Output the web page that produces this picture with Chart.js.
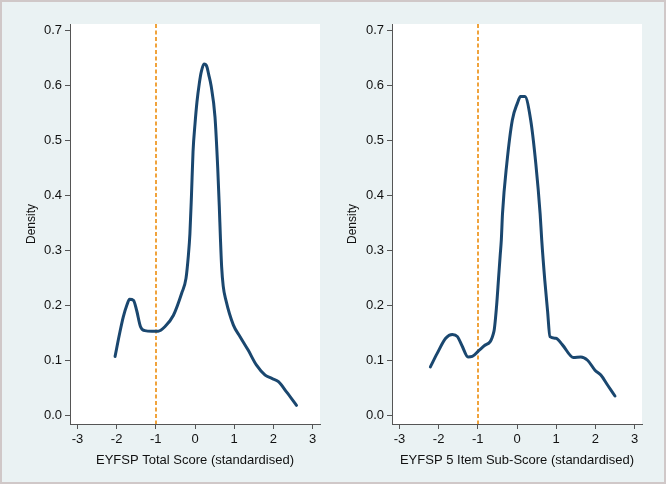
<!DOCTYPE html>
<html><head><meta charset="utf-8">
<script src="https://cdn.jsdelivr.net/npm/chart.js@4"></script>
<style>
html,body{margin:0;padding:0;background:#eaf2f3;}
#frame{position:absolute;left:0;top:0;width:666px;height:484px;box-sizing:border-box;border:2px solid #d0c8c8;}
canvas{position:absolute;top:0;}
</style></head><body>
<div id="frame"></div>
<canvas id="c1" width="333" height="484" style="left:0"></canvas>
<canvas id="c2" width="333" height="484" style="left:333px"></canvas>
<script>
// EYFSP Total Score density
const totalX = [-2.04,-1.92,-1.83,-1.74,-1.67,-1.57,-1.49,-1.39,-1.28,-1.10,-0.94,-0.77,-0.55,-0.34,-0.23,-0.17,-0.13,-0.09,-0.05,0.00,0.05,0.11,0.16,0.23,0.30,0.35,0.41,0.51,0.58,0.62,0.65,0.68,0.72,0.79,0.98,1.15,1.36,1.57,1.79,1.96,2.13,2.34,2.59];
const totalY = [0.107,0.150,0.179,0.200,0.211,0.209,0.191,0.161,0.154,0.153,0.153,0.161,0.182,0.222,0.249,0.290,0.330,0.400,0.480,0.530,0.570,0.604,0.625,0.639,0.635,0.620,0.600,0.543,0.450,0.380,0.320,0.270,0.235,0.209,0.164,0.143,0.118,0.091,0.073,0.067,0.061,0.042,0.018];
// EYFSP 5 Item Sub-Score density
const subX = [-2.21,-2.04,-1.82,-1.65,-1.52,-1.40,-1.25,-1.14,-0.97,-0.84,-0.59,-0.52,-0.47,-0.43,-0.40,-0.37,-0.26,-0.12,0.01,0.09,0.20,0.35,0.48,0.59,0.63,0.71,0.78,0.84,0.99,1.16,1.44,1.63,1.80,1.99,2.14,2.31,2.50];
const subY = [0.088,0.112,0.140,0.147,0.143,0.126,0.106,0.107,0.118,0.126,0.152,0.200,0.250,0.290,0.319,0.367,0.458,0.537,0.568,0.580,0.580,0.537,0.458,0.367,0.320,0.245,0.190,0.143,0.140,0.128,0.105,0.106,0.100,0.082,0.073,0.055,0.035];
const xTicks = [-3,-2,-1,0,1,2,3];
const yTicks = [0,0.1,0.2,0.3,0.4,0.5,0.6,0.7];
const cutoff = -1;
const titles = ['EYFSP Total Score (standardised)','EYFSP 5 Item Sub-Score (standardised)'];

const FONT = {family:'"Liberation Sans", Arial, sans-serif', size:13};
const bgPlugin = {id:'bg', beforeDraw(chart){const {ctx, chartArea:a}=chart; ctx.save(); ctx.fillStyle='#ffffff'; ctx.fillRect(a.left,a.top,a.right-a.left,a.bottom-a.top); ctx.restore();}};
const cutoffPlugin = {id:'cutoff', beforeDatasetsDraw(chart){
  const {ctx, chartArea:a, scales:{x}} = chart; const px = Math.round(x.getPixelForValue(cutoff));
  ctx.save(); ctx.strokeStyle='#f0a33c'; ctx.lineWidth=2; ctx.setLineDash([4,2.5]);
  ctx.beginPath(); ctx.moveTo(px,a.top); ctx.lineTo(px,a.bottom); ctx.stroke(); ctx.restore();}};

function makeChart(id, xs, ys, title, padLeft, yWidth, padRight){
  const data = xs.map((x,i)=>({x:x, y:ys[i]}));
  return new Chart(document.getElementById(id), {
    type:'line',
    data:{datasets:[{data:data, borderColor:'#1a476f', borderWidth:3, pointRadius:0, cubicInterpolationMode:'monotone', fill:false, borderCapStyle:'round', borderJoinStyle:'round'}]},
    options:{
      responsive:false, animation:false, devicePixelRatio:1,
      layout:{padding:{top:24,right:padRight,bottom:12,left:padLeft}},
      plugins:{legend:{display:false}, tooltip:{enabled:false}},
      scales:{
        x:{type:'linear', min:-3.19, max:3.19,
          afterBuildTicks:s=>{s.ticks = xTicks.map(v=>({value:v}));},
          afterFit:s=>{s.height=48;},
          grid:{display:true, drawOnChartArea:false, drawTicks:true, tickLength:5, color:'#555', lineWidth:1},
          border:{display:true, color:'#555', width:1},
          ticks:{color:'#111', font:FONT, padding:3, maxRotation:0, autoSkip:false, callback:v=>String(v)},
          title:{display:true, text:title, color:'#111', font:FONT, padding:{top:4,bottom:4}}},
        y:{type:'linear', min:-0.016, max:0.712,
          afterBuildTicks:s=>{s.ticks = yTicks.map(v=>({value:v}));},
          afterFit:s=>{s.width=yWidth;},
          grid:{display:true, drawOnChartArea:false, drawTicks:true, tickLength:5, color:'#555', lineWidth:1},
          border:{display:true, color:'#555', width:1},
          ticks:{color:'#111', font:FONT, padding:3, autoSkip:false, callback:v=>Number(v).toFixed(1)},
          title:{display:true, text:'Density', color:'#111', font:{family:FONT.family, size:12}, padding:{top:4,bottom:4}}}
      }
    },
    plugins:[bgPlugin, cutoffPlugin]
  });
}
makeChart('c1', totalX, totalY, titles[0], 20, 50, 13);
makeChart('c2', subX, subY, titles[1], 8, 51, 24);
</script>
</body></html>
